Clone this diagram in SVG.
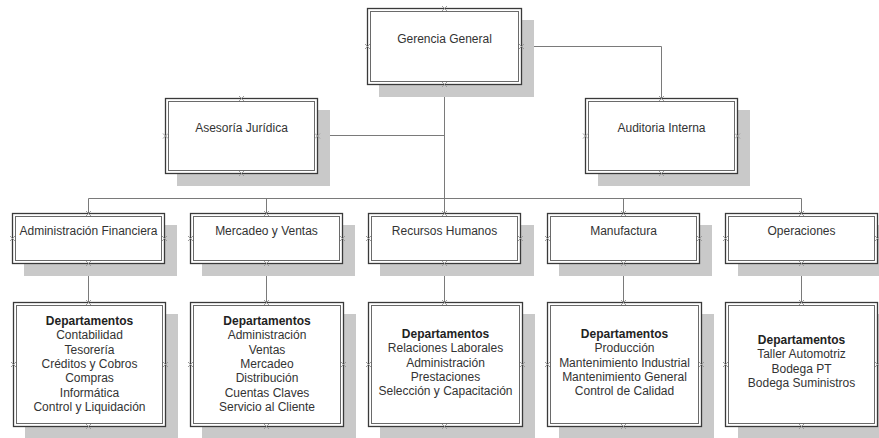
<svg xmlns="http://www.w3.org/2000/svg" xmlns:xlink="http://www.w3.org/1999/xlink" width="879" height="438" viewBox="0 0 879 438">
<defs>
<style>
.sh{fill:#c9c9c9;stroke:none}
.bo{fill:#ffffff;stroke:#3a3a3a;stroke-width:1.3}
.bi{fill:none;stroke:#6a6a6a;stroke-width:1}
.t{font-family:"Liberation Sans",Arial,sans-serif;font-size:12px;fill:#333333;text-anchor:middle}
.b{font-weight:bold;fill:#222222}
.c{fill:none;stroke:#7a7a7a;stroke-width:1}
.cpm{fill:none;stroke:#9a9a9a;stroke-width:1}
</style>
<symbol id="cp" overflow="visible"><path class="cpm" d="M-2.5,-2.5L2.5,2.5M-2.5,2.5L2.5,-2.5"/></symbol>
</defs>
<rect width="879" height="438" fill="#ffffff"/>

<g id="connectors">
<path class="c" d="M444.5,85V198.5"/>
<path class="c" d="M318,135.5H444.5"/>
<path class="c" d="M522,46.5H661.5V98"/>
<path class="c" d="M88.5,198.5H801.5"/>
<path class="c" d="M88.5,198.5V213M266.5,198.5V213M444.5,198.5V213M623.5,198.5V213M801.5,198.5V213"/>
<path class="c" d="M88.5,263V302M266.5,263V302M444.5,263V302M623.5,263V302M801.5,263V302"/>
</g>

<g id="gerencia">
<rect class="sh" x="379" y="20" width="155" height="77"/>
<rect class="bo" x="367.5" y="8.5" width="154" height="76"/>
<rect class="bi" x="370.5" y="11.5" width="148" height="70"/>
<text class="t" x="444.5" y="43">Gerencia General</text>
<use xlink:href="#cp" x="444.5" y="8.5"/><use xlink:href="#cp" x="444.5" y="84.5"/><use xlink:href="#cp" x="367.5" y="46.5"/><use xlink:href="#cp" x="521.5" y="46.5"/>
</g>

<g id="asesoria">
<rect class="sh" x="177" y="110" width="153" height="76"/>
<rect class="bo" x="165.5" y="98.5" width="152" height="75"/>
<rect class="bi" x="168.5" y="101.5" width="146" height="69"/>
<text class="t" x="241.5" y="132">Asesoría Jurídica</text>
<use xlink:href="#cp" x="241.5" y="98.5"/><use xlink:href="#cp" x="241.5" y="173.5"/><use xlink:href="#cp" x="165.5" y="136"/><use xlink:href="#cp" x="317.5" y="136"/>
</g>

<g id="auditoria">
<rect class="sh" x="598" y="110" width="152" height="76"/>
<rect class="bo" x="585.5" y="98.5" width="152" height="75"/>
<rect class="bi" x="588.5" y="101.5" width="146" height="69"/>
<text class="t" x="661.5" y="132">Auditoria Interna</text>
<use xlink:href="#cp" x="661.5" y="98.5"/><use xlink:href="#cp" x="661.5" y="173.5"/><use xlink:href="#cp" x="585.5" y="136"/><use xlink:href="#cp" x="737.5" y="136"/>
</g>

<g id="adm-fin">
<rect class="sh" x="24" y="225" width="153" height="51"/>
<rect class="bo" x="12.5" y="213.5" width="152" height="50"/>
<rect class="bi" x="15.5" y="216.5" width="146" height="44"/>
<text class="t" x="88.5" y="235">Administración Financiera</text>
<use xlink:href="#cp" x="88.5" y="213.5"/><use xlink:href="#cp" x="88.5" y="263.5"/><use xlink:href="#cp" x="12.5" y="238.5"/><use xlink:href="#cp" x="164.5" y="238.5"/>
</g>

<g id="mercadeo">
<rect class="sh" x="202" y="225" width="153" height="51"/>
<rect class="bo" x="190.5" y="213.5" width="152" height="50"/>
<rect class="bi" x="193.5" y="216.5" width="146" height="44"/>
<text class="t" x="266.5" y="235">Mercadeo y Ventas</text>
<use xlink:href="#cp" x="266.5" y="213.5"/><use xlink:href="#cp" x="266.5" y="263.5"/><use xlink:href="#cp" x="190.5" y="238.5"/><use xlink:href="#cp" x="342.5" y="238.5"/>
</g>

<g id="rrhh">
<rect class="sh" x="380" y="225" width="154" height="51"/>
<rect class="bo" x="368.5" y="213.5" width="152" height="50"/>
<rect class="bi" x="371.5" y="216.5" width="146" height="44"/>
<text class="t" x="444.5" y="235">Recursos Humanos</text>
<use xlink:href="#cp" x="444.5" y="213.5"/><use xlink:href="#cp" x="444.5" y="263.5"/><use xlink:href="#cp" x="368.5" y="238.5"/><use xlink:href="#cp" x="520.5" y="238.5"/>
</g>

<g id="manufactura">
<rect class="sh" x="559" y="225" width="153" height="51"/>
<rect class="bo" x="547.5" y="213.5" width="152" height="50"/>
<rect class="bi" x="550.5" y="216.5" width="146" height="44"/>
<text class="t" x="623.5" y="235">Manufactura</text>
<use xlink:href="#cp" x="623.5" y="213.5"/><use xlink:href="#cp" x="623.5" y="263.5"/><use xlink:href="#cp" x="547.5" y="238.5"/><use xlink:href="#cp" x="699.5" y="238.5"/>
</g>

<g id="operaciones">
<rect class="sh" x="738" y="225" width="153" height="51"/>
<rect class="bo" x="725.5" y="213.5" width="152" height="50"/>
<rect class="bi" x="728.5" y="216.5" width="146" height="44"/>
<text class="t" x="801.5" y="235">Operaciones</text>
<use xlink:href="#cp" x="801.5" y="213.5"/><use xlink:href="#cp" x="801.5" y="263.5"/><use xlink:href="#cp" x="725.5" y="238.5"/><use xlink:href="#cp" x="877.5" y="238.5"/>
</g>

<g id="dep-adm-fin">
<rect class="sh" x="25" y="314" width="153" height="126"/>
<rect class="bo" x="13.5" y="302.5" width="152" height="124"/>
<rect class="bi" x="16.5" y="305.5" width="146" height="118"/>
<text class="t" x="89.5" y="325"><tspan class="b">Departamentos</tspan><tspan x="89.5" dy="14.3">Contabilidad</tspan><tspan x="89.5" dy="14.3">Tesorería</tspan><tspan x="89.5" dy="14.3">Créditos y Cobros</tspan><tspan x="89.5" dy="14.3">Compras</tspan><tspan x="89.5" dy="14.3">Informática</tspan><tspan x="89.5" dy="14.3">Control y Liquidación</tspan></text>
<use xlink:href="#cp" x="88.5" y="302.5"/><use xlink:href="#cp" x="88.5" y="426.5"/><use xlink:href="#cp" x="13.5" y="364.5"/><use xlink:href="#cp" x="165.5" y="364.5"/>
</g>

<g id="dep-mercadeo">
<rect class="sh" x="202" y="314" width="154" height="126"/>
<rect class="bo" x="190.5" y="302.5" width="153" height="124"/>
<rect class="bi" x="193.5" y="305.5" width="147" height="118"/>
<text class="t" x="267" y="325"><tspan class="b">Departamentos</tspan><tspan x="267" dy="14.3">Administración</tspan><tspan x="267" dy="14.3">Ventas</tspan><tspan x="267" dy="14.3">Mercadeo</tspan><tspan x="267" dy="14.3">Distribución</tspan><tspan x="267" dy="14.3">Cuentas Claves</tspan><tspan x="267" dy="14.3">Servicio al Cliente</tspan></text>
<use xlink:href="#cp" x="266.5" y="302.5"/><use xlink:href="#cp" x="266.5" y="426.5"/><use xlink:href="#cp" x="190.5" y="364.5"/><use xlink:href="#cp" x="343.5" y="364.5"/>
</g>

<g id="dep-rrhh">
<rect class="sh" x="380" y="314" width="155" height="126"/>
<rect class="bo" x="368.5" y="302.5" width="154" height="124"/>
<rect class="bi" x="371.5" y="305.5" width="148" height="118"/>
<text class="t" x="445.5" y="338"><tspan class="b">Departamentos</tspan><tspan x="445.5" dy="14.3">Relaciones Laborales</tspan><tspan x="445.5" dy="14.3">Administración</tspan><tspan x="445.5" dy="14.3">Prestaciones</tspan><tspan x="445.5" dy="14.3">Selección y Capacitación</tspan></text>
<use xlink:href="#cp" x="444.5" y="302.5"/><use xlink:href="#cp" x="444.5" y="426.5"/><use xlink:href="#cp" x="368.5" y="364.5"/><use xlink:href="#cp" x="522.5" y="364.5"/>
</g>

<g id="dep-manufactura">
<rect class="sh" x="559" y="314" width="155" height="126"/>
<rect class="bo" x="547.5" y="302.5" width="154" height="124"/>
<rect class="bi" x="550.5" y="305.5" width="148" height="118"/>
<text class="t" x="624.5" y="338"><tspan class="b">Departamentos</tspan><tspan x="624.5" dy="14.3">Producción</tspan><tspan x="624.5" dy="14.3">Mantenimiento Industrial</tspan><tspan x="624.5" dy="14.3">Mantenimiento General</tspan><tspan x="624.5" dy="14.3">Control de Calidad</tspan></text>
<use xlink:href="#cp" x="623.5" y="302.5"/><use xlink:href="#cp" x="623.5" y="426.5"/><use xlink:href="#cp" x="547.5" y="364.5"/><use xlink:href="#cp" x="701.5" y="364.5"/>
</g>

<g id="dep-operaciones">
<rect class="sh" x="738" y="314" width="153" height="126"/>
<rect class="bo" x="725.5" y="302.5" width="152" height="124"/>
<rect class="bi" x="728.5" y="305.5" width="146" height="118"/>
<text class="t" x="801.5" y="344"><tspan class="b">Departamentos</tspan><tspan x="801.5" dy="14.3">Taller Automotriz</tspan><tspan x="801.5" dy="14.3">Bodega PT</tspan><tspan x="801.5" dy="14.3">Bodega Suministros</tspan></text>
<use xlink:href="#cp" x="801.5" y="302.5"/><use xlink:href="#cp" x="801.5" y="426.5"/><use xlink:href="#cp" x="725.5" y="364.5"/><use xlink:href="#cp" x="877.5" y="364.5"/>
</g>
</svg>
